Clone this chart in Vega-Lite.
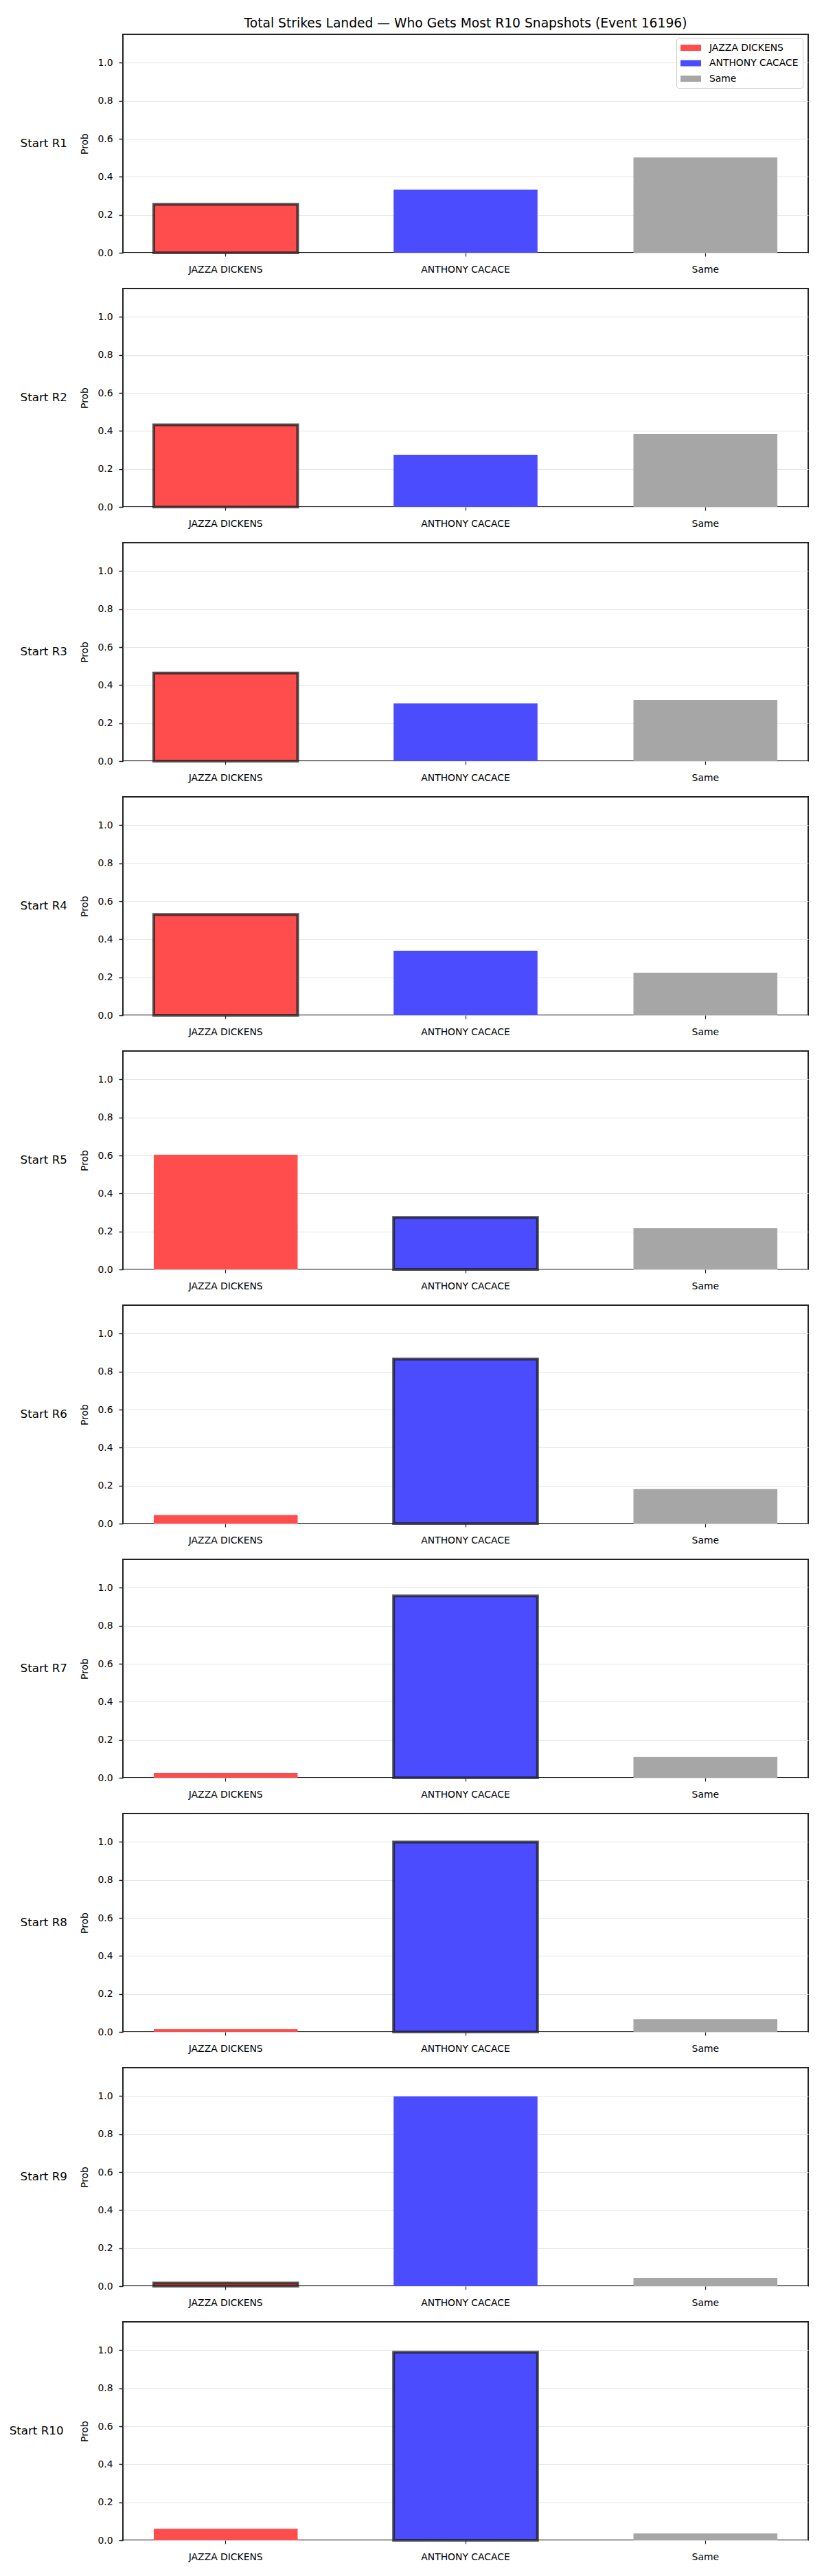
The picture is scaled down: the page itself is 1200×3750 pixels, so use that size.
{
  "$schema": "https://vega.github.io/schema/vega-lite/v6.json",
  "background": "white",
  "padding": {"left": 13, "top": 24, "right": 0, "bottom": 0},
  "title": {
    "text": "Total Strikes Landed — Who Gets Most R10 Snapshots (Event 16196)",
    "fontSize": 18.7,
    "fontWeight": "normal",
    "color": "#000",
    "anchor": "middle",
    "frame": "group",
    "dx": 499,
    "offset": 5.5
  },
  "data": {
    "values": [
      {"snapshot": "Start R1", "round": 1, "outcome": "JAZZA DICKENS", "prob": 0.255, "current": true},
      {"snapshot": "Start R1", "round": 1, "outcome": "ANTHONY CACACE", "prob": 0.333, "current": false},
      {"snapshot": "Start R1", "round": 1, "outcome": "Same", "prob": 0.502, "current": false},
      {"snapshot": "Start R2", "round": 2, "outcome": "JAZZA DICKENS", "prob": 0.432, "current": true},
      {"snapshot": "Start R2", "round": 2, "outcome": "ANTHONY CACACE", "prob": 0.275, "current": false},
      {"snapshot": "Start R2", "round": 2, "outcome": "Same", "prob": 0.383, "current": false},
      {"snapshot": "Start R3", "round": 3, "outcome": "JAZZA DICKENS", "prob": 0.464, "current": true},
      {"snapshot": "Start R3", "round": 3, "outcome": "ANTHONY CACACE", "prob": 0.304, "current": false},
      {"snapshot": "Start R3", "round": 3, "outcome": "Same", "prob": 0.322, "current": false},
      {"snapshot": "Start R4", "round": 4, "outcome": "JAZZA DICKENS", "prob": 0.531, "current": true},
      {"snapshot": "Start R4", "round": 4, "outcome": "ANTHONY CACACE", "prob": 0.340, "current": false},
      {"snapshot": "Start R4", "round": 4, "outcome": "Same", "prob": 0.224, "current": false},
      {"snapshot": "Start R5", "round": 5, "outcome": "JAZZA DICKENS", "prob": 0.604, "current": false},
      {"snapshot": "Start R5", "round": 5, "outcome": "ANTHONY CACACE", "prob": 0.274, "current": true},
      {"snapshot": "Start R5", "round": 5, "outcome": "Same", "prob": 0.217, "current": false},
      {"snapshot": "Start R6", "round": 6, "outcome": "JAZZA DICKENS", "prob": 0.045, "current": false},
      {"snapshot": "Start R6", "round": 6, "outcome": "ANTHONY CACACE", "prob": 0.866, "current": true},
      {"snapshot": "Start R6", "round": 6, "outcome": "Same", "prob": 0.182, "current": false},
      {"snapshot": "Start R7", "round": 7, "outcome": "JAZZA DICKENS", "prob": 0.025, "current": false},
      {"snapshot": "Start R7", "round": 7, "outcome": "ANTHONY CACACE", "prob": 0.957, "current": true},
      {"snapshot": "Start R7", "round": 7, "outcome": "Same", "prob": 0.109, "current": false},
      {"snapshot": "Start R8", "round": 8, "outcome": "JAZZA DICKENS", "prob": 0.0145, "current": false},
      {"snapshot": "Start R8", "round": 8, "outcome": "ANTHONY CACACE", "prob": 1.0, "current": true},
      {"snapshot": "Start R8", "round": 8, "outcome": "Same", "prob": 0.068, "current": false},
      {"snapshot": "Start R9", "round": 9, "outcome": "JAZZA DICKENS", "prob": 0.016, "current": true},
      {"snapshot": "Start R9", "round": 9, "outcome": "ANTHONY CACACE", "prob": 0.999, "current": false},
      {"snapshot": "Start R9", "round": 9, "outcome": "Same", "prob": 0.043, "current": false},
      {"snapshot": "Start R10", "round": 10, "outcome": "JAZZA DICKENS", "prob": 0.061, "current": false},
      {"snapshot": "Start R10", "round": 10, "outcome": "ANTHONY CACACE", "prob": 0.99, "current": true},
      {"snapshot": "Start R10", "round": 10, "outcome": "Same", "prob": 0.036, "current": false}
    ]
  },
  "facet": {
    "row": {
      "field": "snapshot",
      "type": "ordinal",
      "sort": {"field": "round", "op": "min"},
      "header": {
        "title": null,
        "labelOrient": "left",
        "labelAngle": 0,
        "labelAlign": "center",
        "labelBaseline": "middle",
        "labelFontSize": 16.7,
        "labelColor": "#000",
        "labelPadding": -17
      }
    }
  },
  "spacing": {"row": 19},
  "resolve": {"axis": {"x": "independent", "y": "independent"}},
  "spec": {
    "width": 998,
    "height": 318,
    "mark": {"type": "bar", "stroke": "#1a1a1a", "strokeOpacity": 0.75},
    "encoding": {
      "x": {
        "field": "outcome",
        "type": "nominal",
        "sort": ["JAZZA DICKENS", "ANTHONY CACACE", "Same"],
        "scale": {"paddingInner": 0.4, "paddingOuter": 0.1286},
        "axis": {
          "title": null,
          "labelAngle": 0,
          "labelFontSize": 13.9,
          "labelColor": "#000",
          "labelPadding": 12,
          "tickSize": 5,
          "tickColor": "#222",
          "tickWidth": 1.2,
          "domain": false,
          "grid": false
        }
      },
      "y": {
        "field": "prob",
        "type": "quantitative",
        "scale": {"domain": [0, 1.15], "nice": false, "zero": true},
        "axis": {
          "title": "Prob",
          "titleFontSize": 13.9,
          "titleFontWeight": "normal",
          "titleColor": "#000",
          "titlePadding": 11,
          "values": [0, 0.2, 0.4, 0.6, 0.8, 1.0],
          "format": ".1f",
          "labelFontSize": 13.9,
          "labelColor": "#000",
          "labelPadding": 9,
          "tickSize": 6,
          "tickColor": "#222",
          "tickWidth": 1.5,
          "domain": false,
          "grid": true,
          "gridColor": "#e5e5e5",
          "gridWidth": 1.2
        }
      },
      "color": {
        "field": "outcome",
        "type": "nominal",
        "scale": {
          "domain": ["JAZZA DICKENS", "ANTHONY CACACE", "Same"],
          "range": ["#FF4C4C", "#4C4CFF", "#A6A6A6"]
        },
        "legend": {
          "title": null,
          "orient": "none",
          "legendX": 806,
          "legendY": 6,
          "labelFontSize": 13.9,
          "labelColor": "#000",
          "symbolType": "M-1,-0.6H3V0.6H-1Z",
          "symbolSize": 225,
          "symbolOpacity": 1,
          "symbolStrokeWidth": 0,
          "labelOffset": 27,
          "rowPadding": 7.5,
          "padding": 6,
          "fillColor": "white",
          "strokeColor": "#cccccc",
          "cornerRadius": 3
        }
      },
      "strokeWidth": {"condition": {"test": "datum.current", "value": 4}, "value": 0}
    }
  },
  "config": {
    "font": "DejaVu Sans",
    "view": {"stroke": "#222", "strokeWidth": 2}
  }
}
